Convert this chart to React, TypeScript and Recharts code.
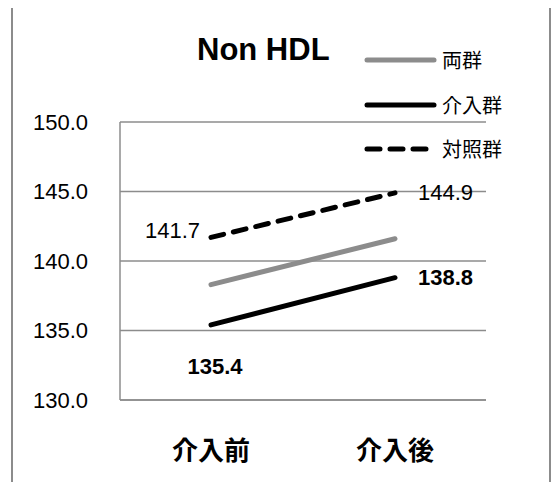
import React from 'react';
import { LineChart, Line, XAxis, YAxis, CartesianGrid, LabelList } from 'recharts';

// Data
const categories = ['介入前', '介入後'];
const bothGroups = [138.3, 141.6];
const intervention = [135.4, 138.8];
const control = [141.7, 144.9];
const yTicks = [130, 135, 140, 145, 150];

const data = categories.map((name, i) => ({
  name,
  両群: bothGroups[i],
  介入群: intervention[i],
  対照群: control[i],
}));

const GRID = '#8c8c8c';
const FONT = '"Liberation Sans", Arial, sans-serif';
const CJK = '"Noto Sans CJK JP", sans-serif';

const SERIES = [
  { key: '両群', color: '#8c8c8c', dash: undefined },
  { key: '介入群', color: '#000000', dash: undefined },
  { key: '対照群', color: '#000000', dash: '13 10' },
];

// label placement per series, per point
const makeLabel = (placements: Array<{ dx: number; dy: number; anchor: string; bold: boolean }>) =>
  (props: any) => {
    const { x, y, value, index } = props;
    const p = placements[index];
    return (
      <text
        x={x + p.dx}
        y={y + p.dy}
        textAnchor={p.anchor}
        dominantBaseline="central"
        fontFamily={FONT}
        fontSize={22}
        fontWeight={p.bold ? 'bold' : 'normal'}
        fill="#000"
      >
        {Number(value).toFixed(1)}
      </text>
    );
  };

const interventionLabel = makeLabel([
  { dx: 4, dy: 42, anchor: 'middle', bold: true },
  { dx: 23, dy: 0, anchor: 'start', bold: true },
]);
const controlLabel = makeLabel([
  { dx: -11, dy: -7, anchor: 'end', bold: false },
  { dx: 23, dy: 0, anchor: 'start', bold: false },
]);

const YTick = (props: any) => {
  const { y, payload } = props;
  return (
    <text x={88} y={y} textAnchor="end" dominantBaseline="central" fontFamily={FONT} fontSize={22} fill="#000">
      {Number(payload.value).toFixed(1)}
    </text>
  );
};

const XTick = (props: any) => {
  const { x, y, payload } = props;
  return (
    <text x={x} y={y + 40} textAnchor="middle" dominantBaseline="central" fontFamily={CJK} fontSize={26} fontWeight="bold" fill="#000">
      {payload.value}
    </text>
  );
};

const ChartLegend = () => (
  <div style={{ position: 'absolute', left: 364, top: 38 }}>
    {SERIES.map((s) => (
      <div key={s.key} style={{ display: 'flex', alignItems: 'center', height: 44.5 }}>
        <svg width={78} height={12}>
          <line
            x1={3}
            y1={6}
            x2={70}
            y2={6}
            stroke={s.color}
            strokeWidth={5}
            strokeLinecap="round"
            strokeDasharray={s.dash}
          />
        </svg>
        <span style={{ fontFamily: CJK, fontSize: 20, color: '#000', lineHeight: 1 }}>{s.key}</span>
      </div>
    ))}
  </div>
);

export default function App() {
  return (
    <div style={{ margin: -8, width: 559, height: 490, position: 'relative', overflow: 'hidden', background: '#fff', fontFamily: FONT }}>
      <div
        style={{
          position: 'absolute',
          left: 11,
          top: 5,
          width: 536,
          height: 520,
          border: `2px solid ${GRID}`,
        }}
      />
      <div
        style={{
          position: 'absolute',
          left: 197,
          top: 30,
          fontFamily: FONT,
          fontWeight: 'bold',
          fontSize: 31,
          lineHeight: '40px',
          color: '#000',
        }}
      >
        Non HDL
      </div>
      <div style={{ position: 'absolute', left: 0, top: 0 }}>
        <LineChart width={559} height={490} data={data} margin={{ top: 122, right: 73, left: 0, bottom: 30 }}>
          <CartesianGrid vertical={false} stroke={GRID} strokeWidth={1.5} />
          <XAxis
            dataKey="name"
            padding={{ left: 91, right: 91 }}
            axisLine={{ stroke: GRID, strokeWidth: 1.5 }}
            tickLine={false}
            tick={<XTick />}
            height={60}
            interval={0}
          />
          <YAxis
            domain={[130, 150]}
            ticks={yTicks}
            width={120}
            axisLine={{ stroke: GRID, strokeWidth: 1.5 }}
            tickLine={false}
            tick={<YTick />}
          />
          {SERIES.map((s) => (
            <Line
              key={s.key}
              type="linear"
              dataKey={s.key}
              stroke={s.color}
              strokeWidth={5}
              strokeLinecap="round"
              strokeDasharray={s.dash}
              dot={false}
              activeDot={false}
              isAnimationActive={false}
            >
              {s.key === '介入群' && <LabelList dataKey={s.key} content={interventionLabel} />}
              {s.key === '対照群' && <LabelList dataKey={s.key} content={controlLabel} />}
            </Line>
          ))}
        </LineChart>
      </div>
      <ChartLegend />
    </div>
  );
}
